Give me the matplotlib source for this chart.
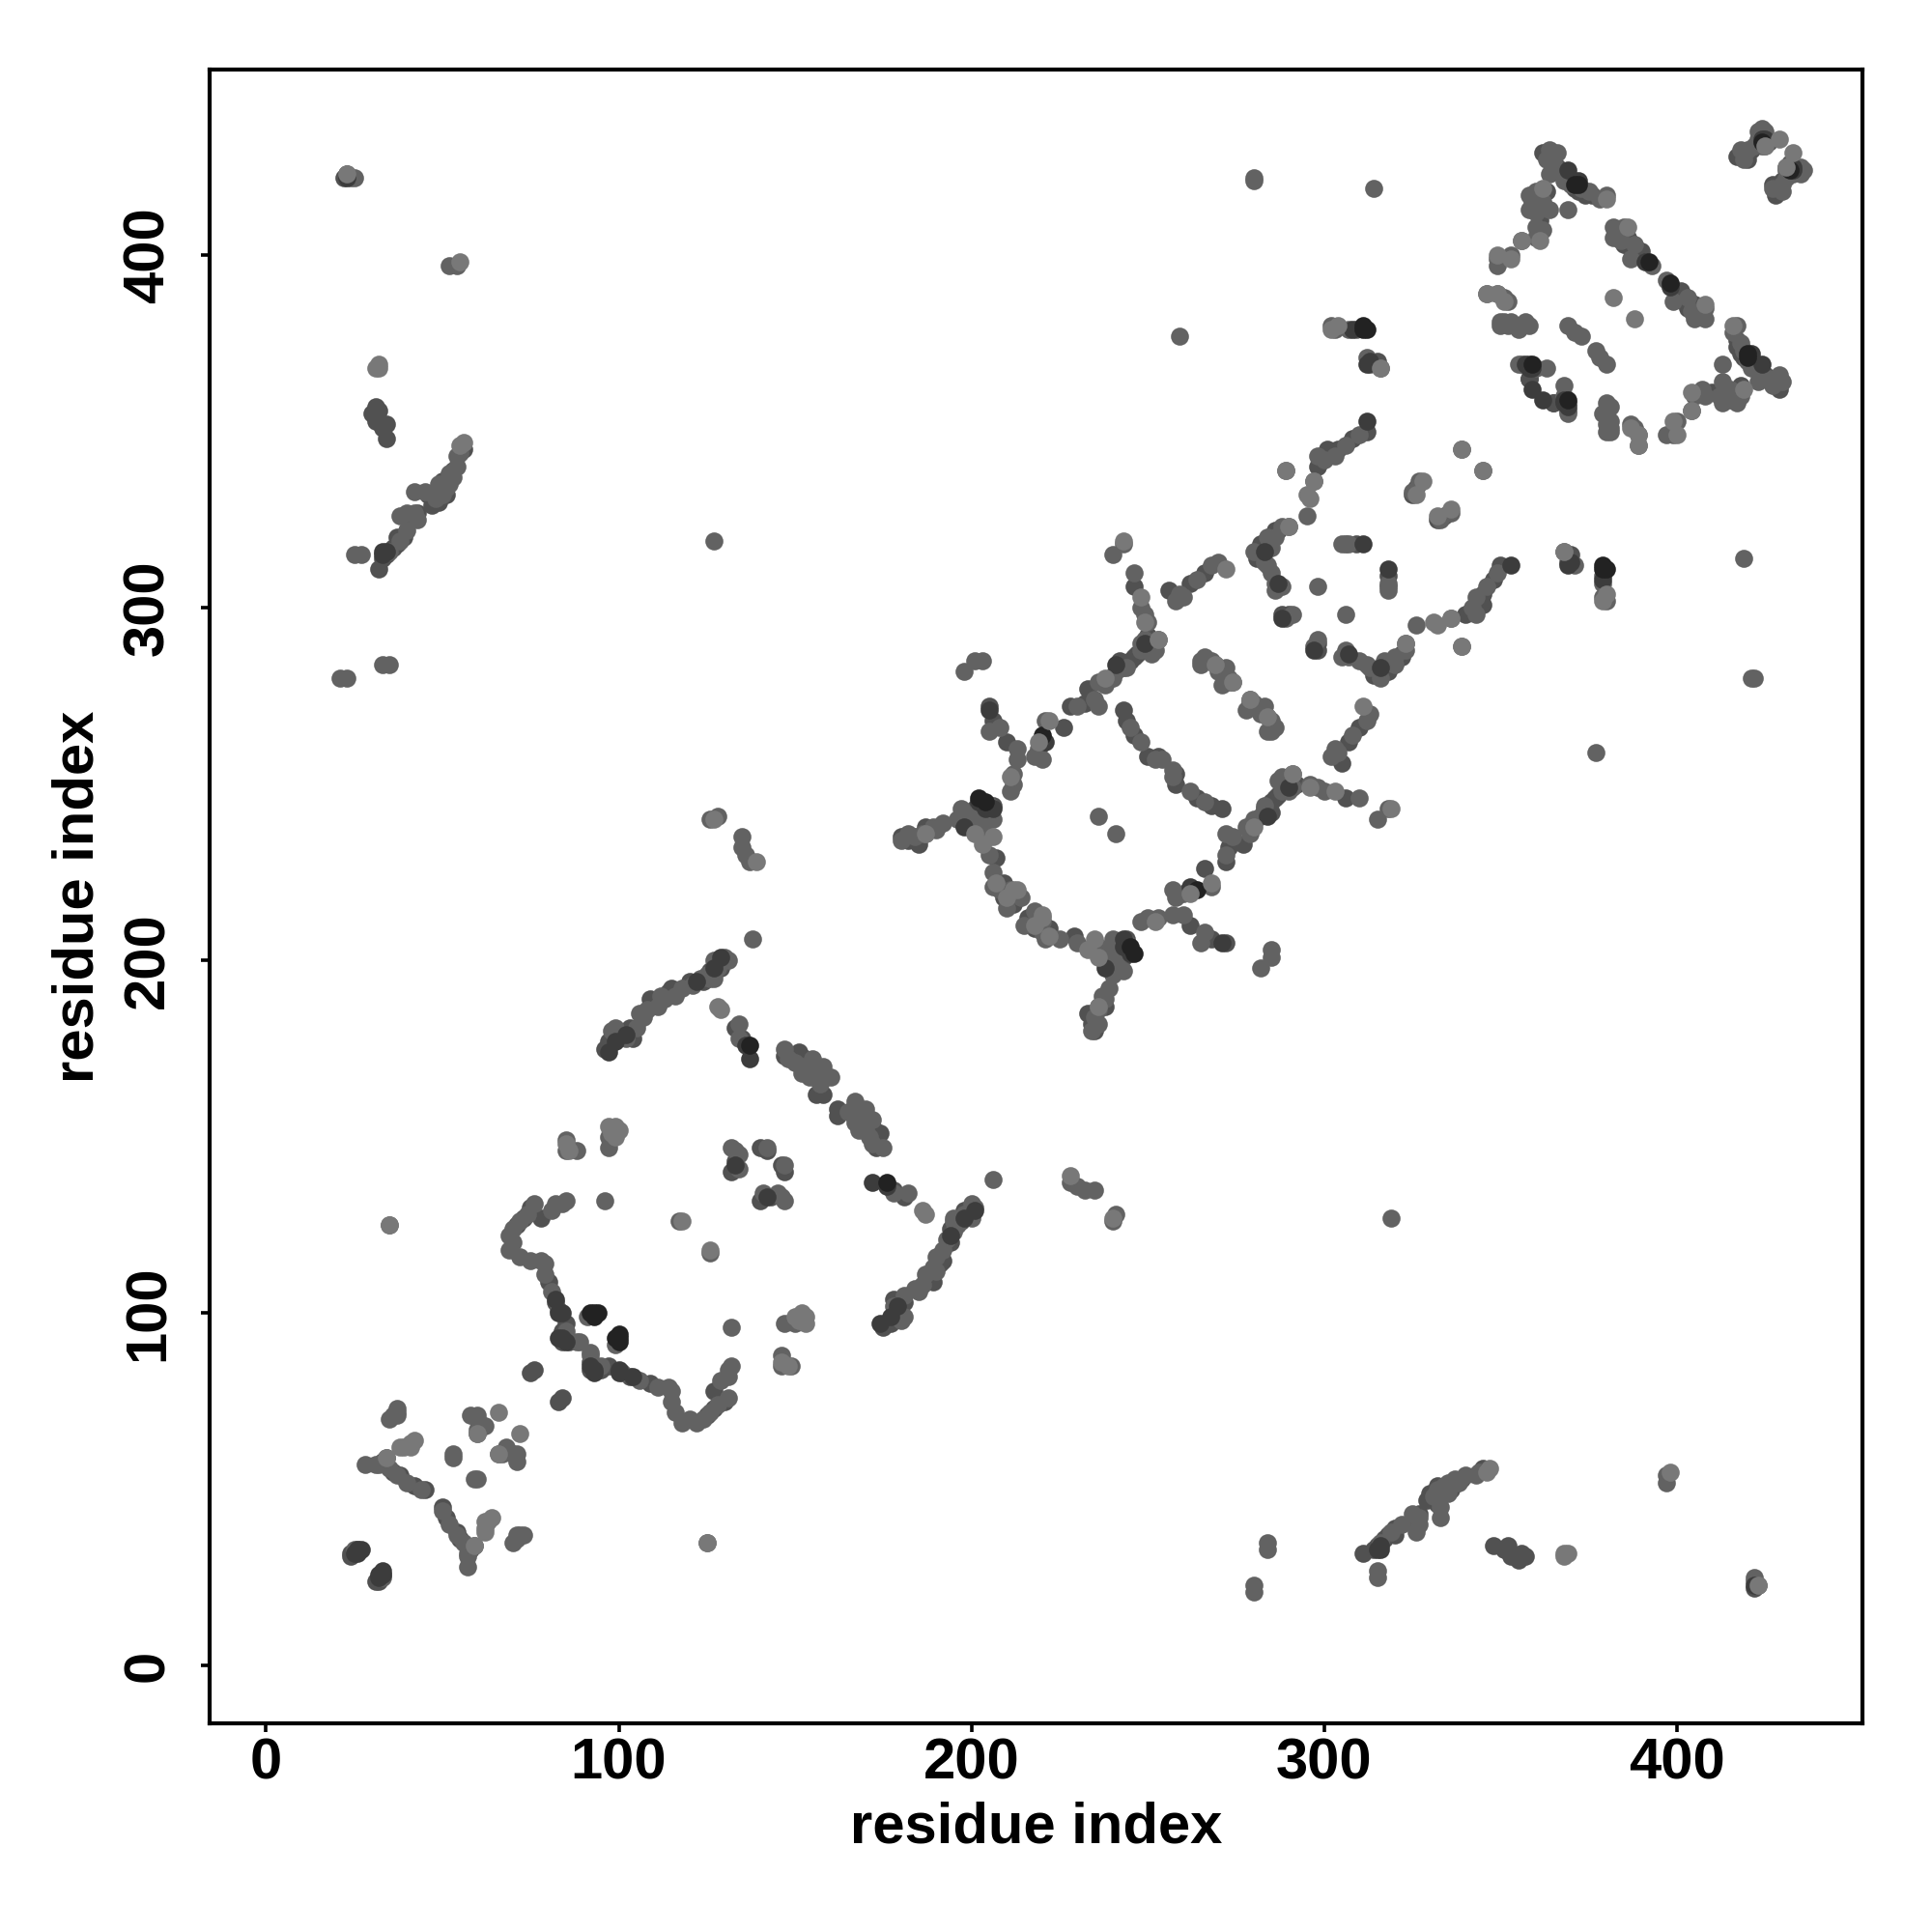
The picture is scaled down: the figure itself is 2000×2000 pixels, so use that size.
import matplotlib
matplotlib.use("Agg")
import matplotlib.pyplot as plt

plt.rcParams['font.family'] = ['Liberation Sans', 'DejaVu Sans']

# contacts (residue i, residue j), i < j; the map is symmetric, so each is also drawn as (j, i)
contacts_dim = [
    (22,422),(23,423),(30,355),(31,357),(31,353),(32,356),(33,351),(34,352),(34,348),(32,311),(33,314),(34,315),
    (36,317),(37,318),(39,320),(43,327),(47,329),(49,330),(51,332),(53,339),(56,345),
    (33,58),(34,59),(36,55),(38,54),(42,51),(45,50),(24,32),(24,31),(75,83),(76,84),
    (71,125),(73,127),(75,130),(78,127),(80,109),(82,103),(84,95),(84,92),(86,92),(85,97),
    (96,175),(97,177),(104,178),(110,188),(114,191),(124,194),(126,197),(133,181),(135,178),(133,143),(132,140),
    (140,147),(142,146),(147,173),(151,174),(153,172),(155,170),(156,162),(158,162),
    (182,234),(187,238),(198,239),(201,243),(204,244),(206,244),(207,222),(209,218),(212,216),(210,262),
    (205,272),(206,268),(228,272),(232,273),(234,274),(243,283),(245,285),(247,287),(250,292),(246,306),
    (256,305),(262,307),(266,310),(244,268),(246,264),(250,258),(253,258),(281,314),(284,318),
    (283,317),(285,320),(287,322),(288,298),(290,298),(298,340),(301,345),(304,345),(308,348),(312,350),
    (306,318),(309,318),(325,332),(326,334),(358,369),(365,358),(367,424),(369,421),(371,419),(374,417),(376,417),
    (358,365),(361,410),(385,403),(387,402),(389,400),(417,428),(419,428),(421,430),(424,431),(426,432),
    (180,235),(226,266),(243,271),(313,369),(315,370),(362,429),(420,429),
    (37,320),(41,325),(46,332),(50,336),(103,181),(109,189),(115,192),(120,194),(129,198),
    (185,233),(199,240),(204,241),(207,229),(209,222),(242,285),(246,286),(233,277),(282,318),(286,322),
    (386,405),(390,401),(366,425),(372,418),(363,418),(418,428),(420,427),(424,434),
]
contacts_mid = [
    (24,422),(25,422),(52,397),(54,397),(25,315),(27,315),(35,316),(38,319),(40,322),(38,326),(40,327),(42,327),
    (42,333),(45,333),(48,331),(50,332),(52,335),(52,338),(54,340),(55,344),(21,280),(23,280),(33,284),(35,284),
    (28,57),(31,57),(32,57),(35,56),(37,54),(40,52),(44,50),(35,70),(37,72),(37,71),(53,59),(53,60),(58,71),(60,71),
    (60,70),(60,67),(60,66),(62,68),(36,71),(37,73),(25,33),(26,33),
    (69,122),(70,120),(70,124),(72,126),(74,128),(76,131),(81,129),(82,131),(84,131),(85,132),(69,118),(72,116),(75,115),
    (78,115),(79,114),(79,111),(81,106),(83,101),(85,95),(88,92),(89,92),(91,99),(85,149),(85,146),(88,146),
    (96,132),(117,126),(97,147),(97,150),(35,125),(127,319),
    (98,180),(99,181),(102,178),(105,181),(107,184),(108,186),(111,187),(113,189),(116,190),(118,192),(121,193),(123,195),
    (125,196),(127,197),(128,198),(128,200),(130,201),(127,195),(126,240),(128,241),(135,235),(135,232),(136,230),(137,228),
    (134,182),(134,178),(132,147),(133,146),(134,145),(134,141),(142,147),(147,175),(148,172),(150,171),(152,170),(155,172),
    (152,168),(154,167),(156,167),(157,169),(158,170),(160,167),(157,165),(155,168),(138,206),
    (180,234),(184,235),(186,236),(189,238),(190,237),(192,239),(196,240),(200,241),(202,243),(205,244),(203,240),
    (205,235),(205,230),(206,225),(208,220),(210,218),(211,220),(205,265),(208,266),(213,260),(213,257),(212,253),(212,250),(211,248),
    (221,268),(219,260),(218,258),(220,257),(230,272),(236,272),(238,278),(240,280),(241,282),(248,288),(249,291),(252,288),(253,291),
    (240,315),(243,318),(246,310),(248,300),(249,298),(250,296),(258,302),(259,304),(260,303),(264,308),(268,312),(270,313),
    (245,266),(248,262),(252,257),(254,257),(265,285),(268,285),(270,283),(272,281),(273,280),(274,279),(271,278),
    (279,273),(281,272),(283,272),(284,269),(285,267),(284,265),(286,266),(282,270),(236,241),(198,282),(201,285),(203,285),
    (280,316),(286,320),(288,323),(290,323),(284,312),(285,310),(286,307),(286,305),(288,306),(289,297),(291,298),(289,339),
    (295,326),(297,336),(298,343),(300,342),(303,343),(306,346),(310,349),(305,318),(307,318),(298,306),(327,336),(325,333),(339,345),
    (280,421),(280,422),(314,419),(259,377),(302,380),(303,379),(307,379),(309,379),(312,371),(316,368),
    (363,427),(364,430),(366,429),(365,426),(368,423),(370,420),(373,419),(378,416),(380,417),(369,413),(358,413),(358,417),
    (360,418),(361,416),(362,415),(360,412),(360,408),(362,407),(356,404),(360,405),(349,397),(349,399),(353,400),
    (346,389),(349,389),(352,387),(350,381),(351,381),(353,381),(355,380),(357,381),(358,380),(352,380),
    (382,408),(385,408),(382,405),(384,404),(393,397),(356,369),(360,368),(363,368),(369,380),(373,377),(371,378),
    (355,369),(419,427),(423,433),(425,431),(425,434),(355,379),(351,388),(350,380),
    (43,325),(49,335),(53,337),(51,334),(54,343),(106,185),(112,190),(126,195),(131,200),(127,200),
    (182,236),(187,236),(197,243),(202,239),(206,240),(204,236),(206,221),(210,215),(214,218),
    (244,283),(248,290),(236,279),(235,274),(251,287),(284,320),(285,317),(283,313),
    (388,403),(387,399),(383,406),(368,421),(371,421),(375,418),(359,415),(364,413),(361,414),(364,423),
    (418,430),(424,436),(425,435),(423,435),(420,430),(422,431),
]
contacts_dark = [
    (23,422),(33,315),(33,316),(34,316),(25,32),(26,32),(26,33),(27,33),(82,104),(83,100),(84,100),
    (84,93),(85,92),(83,93),(97,174),(99,177),(102,179),(122,194),(127,198),(129,201),(136,176),(137,172),(133,142),
    (220,263),(221,262),(202,245),(206,243),(205,271),(241,284),(249,290),
    (283,316),(288,297),(287,307),(311,318),(312,353),(312,369),(313,370),
    (369,424),(372,421),(391,398),(357,369),(359,368),(362,359),(368,358),(424,433),(425,433),
    (308,379),(198,238),(204,243),
]
contacts_black = [
    (92,100),(93,100),(94,100),(93,99),(137,176),(220,264),(311,379),(312,379),(311,380),(359,369),
    (371,420),(372,420),(392,398),(424,432),(204,245),(202,246),
]
contacts_light = [
    (23,423),(31,368),(32,368),(32,369),(55,398),(55,346),(56,347),(39,62),(41,62),(41,63),(42,64),(38,62),
    (97,153),(99,153),(99,150),(100,152),(98,151),(85,148),(86,146),(118,126),(129,186),(128,187),(127,240),(139,228),
    (187,236),(203,233),(206,235),(201,236),(207,222),(210,218),(212,220),(213,220),(219,262),(222,268),
    (211,252),(238,280),(243,319),(248,303),(249,296),(253,291),(272,311),(274,279),(284,269),(295,332),(296,331),
    (290,323),(289,339),(297,336),(326,332),(328,336),(339,345),(304,380),(302,379),(316,368),
    (349,400),(353,399),(346,389),(349,389),(351,387),(382,388),(356,404),(361,404),(362,419),(380,416),
    (386,408),(425,431),(429,433),(66,72),(60,66),(34,59),(35,125),
]
groups = [
    (contacts_dim, '#515151'), (contacts_mid, '#626262'), (contacts_dark, '#3c3c3c'),
    (contacts_black, '#222222'), (contacts_light, '#787878'),
]

tick_vals = [0, 100, 200, 300, 400]
axis_title = 'residue index'

fig = plt.figure(figsize=(20, 20), dpi=100, facecolor='white')
ax = fig.add_axes([217 / 2000, 216 / 2000, 1711 / 2000, 1712 / 2000])
for pairs, shade in groups:
    i = [p[0] for p in pairs]
    j = [p[1] for p in pairs]
    ax.scatter(i + j, j + i, s=180, c=shade, linewidths=0, zorder=3)

ax.set_xlim(-16, 452.6)
ax.set_ylim(-16.3, 452.6)
ax.set_xticks(tick_vals)
ax.set_yticks(tick_vals)
ax.set_xticklabels([str(v) for v in tick_vals], fontsize=43, fontweight='bold')
ax.set_yticklabels([str(v) for v in tick_vals], fontsize=43, fontweight='bold', rotation=90, va='center')
ax.tick_params(axis='both', length=6.5, width=2.6, color='black')
ax.tick_params(axis='x', pad=4)
ax.tick_params(axis='y', pad=19)
for s in ax.spines.values():
    s.set_linewidth(3)
ax.set_xlabel(axis_title, fontsize=43, fontweight='bold', labelpad=8)
ax.set_ylabel(axis_title, fontsize=43, fontweight='bold', labelpad=13)
fig.savefig('out.png', dpi=100, facecolor='white')
